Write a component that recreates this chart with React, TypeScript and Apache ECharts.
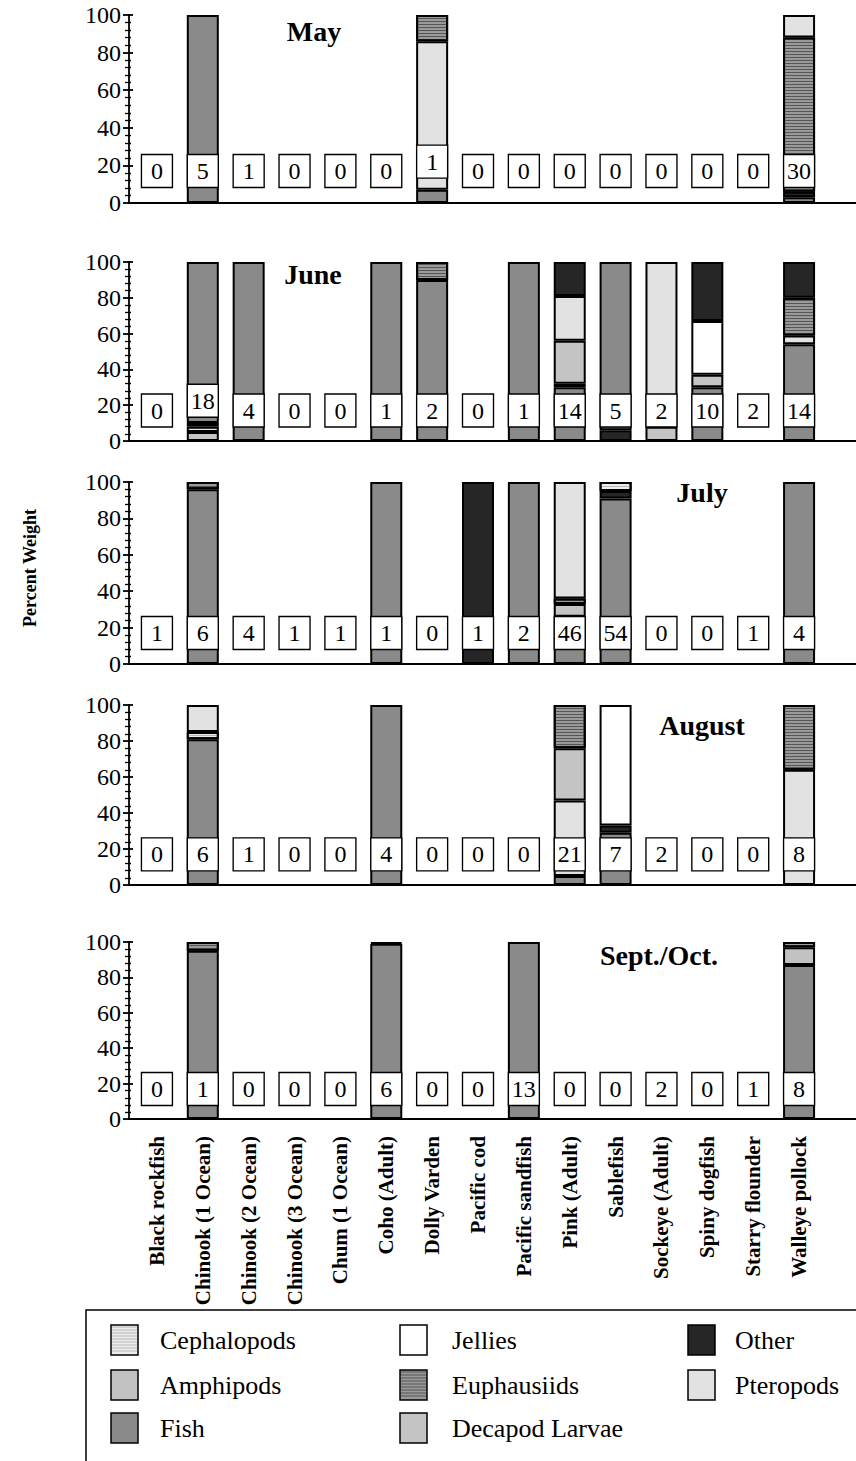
import { useEffect, useRef } from "react";
import * as echarts from "echarts";

// Predator species along the shared x axis
const SPECIES = [
  "Black rockfish",
  "Chinook (1 Ocean)",
  "Chinook (2 Ocean)",
  "Chinook (3 Ocean)",
  "Chum (1 Ocean)",
  "Coho (Adult)",
  "Dolly Varden",
  "Pacific cod",
  "Pacific sandfish",
  "Pink (Adult)",
  "Sablefish",
  "Sockeye (Adult)",
  "Spiny dogfish",
  "Starry flounder",
  "Walleye pollock",
];

const MONTHS = ["May", "June", "July", "August", "Sept./Oct."];

// Prey groups, in legend order (column by column)
const PREY = [
  "Cephalopods",
  "Amphipods",
  "Fish",
  "Jellies",
  "Euphausiids",
  "Decapod Larvae",
  "Other",
  "Pteropods",
];

const PERCENT_MIN = 0;
const PERCENT_MAX = 100;
const PERCENT_STEP = 20;

// Number of stomachs examined per species
const MAY_N = [0, 5, 1, 0, 0, 0, 1, 0, 0, 0, 0, 0, 0, 0, 30];
const JUNE_N = [0, 18, 4, 0, 0, 1, 2, 0, 1, 14, 5, 2, 10, 2, 14];
const JULY_N = [1, 6, 4, 1, 1, 1, 0, 1, 2, 46, 54, 0, 0, 1, 4];
const AUG_N = [0, 6, 1, 0, 0, 4, 0, 0, 0, 21, 7, 2, 0, 0, 8];
const SEPT_N = [0, 1, 0, 0, 0, 6, 0, 0, 13, 0, 0, 2, 0, 1, 8];

// Diet composition (percent weight), segments listed from the bottom of each bar up
type Segment = [string, number];

const MAY_DIET: Segment[][] = [
  [],
  [["Fish", 100]],
  [],
  [],
  [],
  [],
  [["Fish", 7], ["Pteropods", 79], ["Euphausiids", 14]],
  [],
  [],
  [],
  [],
  [],
  [],
  [],
  [["Fish", 3], ["Other", 3], ["Euphausiids", 82], ["Pteropods", 12]],
];

const JUNE_DIET: Segment[][] = [
  [],
  [["Decapod Larvae", 5], ["Pteropods", 3], ["Jellies", 2], ["Fish", 90]],
  [["Fish", 100]],
  [],
  [],
  [["Fish", 100]],
  [["Fish", 90], ["Euphausiids", 10]],
  [],
  [["Fish", 100]],
  [["Fish", 30], ["Other", 2], ["Decapod Larvae", 24], ["Pteropods", 25], ["Other", 19]],
  [["Other", 6], ["Fish", 94]],
  [["Decapod Larvae", 8], ["Pteropods", 92]],
  [["Fish", 30], ["Decapod Larvae", 7], ["Jellies", 30], ["Other", 33]],
  [],
  [["Fish", 54], ["Pteropods", 5], ["Euphausiids", 21], ["Other", 20]],
];

const JULY_DIET: Segment[][] = [
  [],
  [["Fish", 96], ["Euphausiids", 4]],
  [],
  [],
  [],
  [["Fish", 100]],
  [],
  [["Other", 100]],
  [["Fish", 100]],
  [["Fish", 26], ["Decapod Larvae", 7], ["Euphausiids", 3], ["Pteropods", 64]],
  [["Fish", 91], ["Other", 4], ["Cephalopods", 5]],
  [],
  [],
  [],
  [["Fish", 100]],
];

const AUG_DIET: Segment[][] = [
  [],
  [["Fish", 81], ["Cephalopods", 4], ["Pteropods", 15]],
  [],
  [],
  [],
  [["Fish", 100]],
  [],
  [],
  [],
  [["Fish", 5], ["Pteropods", 42], ["Decapod Larvae", 29], ["Euphausiids", 24]],
  [["Fish", 29], ["Other", 4], ["Jellies", 67]],
  [],
  [],
  [],
  [["Pteropods", 64], ["Euphausiids", 36]],
];

const SEPT_DIET: Segment[][] = [
  [],
  [["Fish", 95], ["Euphausiids", 5]],
  [],
  [],
  [],
  [["Fish", 99], ["Euphausiids", 1]],
  [],
  [],
  [["Fish", 100]],
  [],
  [],
  [],
  [],
  [],
  [["Fish", 87], ["Amphipods", 10], ["Euphausiids", 3]],
];

const DIETS = [MAY_DIET, JUNE_DIET, JULY_DIET, AUG_DIET, SEPT_DIET];
const COUNTS = [MAY_N, JUNE_N, JULY_N, AUG_N, SEPT_N];

// ---- styling and layout ----
const SERIF = '"Liberation Serif", "Times New Roman", serif';

const PREY_FILL: Record<string, string> = {
  Cephalopods: "#ececec",
  Amphipods: "#c2c2c2",
  Fish: "#8a8a8a",
  Jellies: "#ffffff",
  Euphausiids: "#9a9a9a",
  "Decapod Larvae": "#c4c4c4",
  Other: "#262626",
  Pteropods: "#e2e2e2",
};

// horizontal hatching for the striped prey groups
const STRIPE_COLOR: Record<string, string> = {
  Euphausiids: "#555555",
  Cephalopods: "#b8b8b8",
};

function decalFor(prey: string) {
  const c = STRIPE_COLOR[prey];
  if (!c) return undefined;
  return {
    symbol: "rect",
    symbolSize: 1,
    color: c,
    dashArrayX: [1, 0],
    dashArrayY: [1, 2],
    rotation: 0,
  };
}

const PANEL_TOP = [15, 262, 482, 705, 942];
const PANEL_BASE = [203, 441, 664, 885, 1119];
const GRID_LEFT = 134;
const GRID_WIDTH = 688;
const AXIS_X = 129;

// count boxes sit at a common height, a couple are lifted above a low segment
const BOX_LEVEL = 17;
const LIFTED_BOX: Record<string, number>[] = [{ 6: 22 }, { 1: 22.5 }, {}, {}, {}];

const TITLE_POS: [number, number][] = [
  [314, 31],
  [313, 274],
  [702, 492],
  [702, 725],
  [659, 955],
];
const TITLE_SHADOW = [false, true, false, false, false];

const LEGEND_ICON_X = [111, 400, 688];
const LEGEND_TEXT_X = [160, 452, 735];
const LEGEND_ROW_Y = [1340, 1385, 1428];

function buildOption() {
  const grid: any[] = [];
  const xAxis: any[] = [];
  const yAxis: any[] = [];
  const series: any[] = [];
  const graphic: any[] = [];
  const last = MONTHS.length - 1;

  MONTHS.forEach((month, p) => {
    const top = PANEL_TOP[p];
    const base = PANEL_BASE[p];
    grid.push({ left: GRID_LEFT, width: GRID_WIDTH, top, height: base - top });

    xAxis.push({
      type: "category",
      gridIndex: p,
      data: SPECIES,
      axisLine: { show: false },
      axisTick: { show: false },
      axisLabel:
        p === last
          ? {
              show: true,
              interval: 0,
              rotate: 90,
              margin: 17,
              fontSize: 21,
              fontWeight: "bold",
              fontFamily: SERIF,
              color: "#000",
              textShadowColor: "rgba(0,0,0,0.4)",
              textShadowOffsetX: 1,
              textShadowOffsetY: 1,
              textShadowBlur: 0,
            }
          : { show: false },
    });

    // main percent axis with labels and outward ticks
    yAxis.push({
      type: "value",
      gridIndex: p,
      position: "left",
      min: PERCENT_MIN,
      max: PERCENT_MAX,
      interval: PERCENT_STEP,
      offset: GRID_LEFT - AXIS_X,
      axisLine: { show: true, lineStyle: { color: "#000", width: 1.8 } },
      axisTick: { show: true, length: 6, lineStyle: { color: "#000", width: 1.8 } },
      minorTick: { show: true, splitNumber: 5, length: 4, lineStyle: { color: "#000", width: 1.3 } },
      splitLine: { show: false },
      axisLabel: {
        show: true,
        margin: 8,
        fontSize: 24,
        fontFamily: SERIF,
        color: "#000",
      },
    });
    // inward half of the crossing ticks
    yAxis.push({
      type: "value",
      gridIndex: p,
      position: "left",
      min: PERCENT_MIN,
      max: PERCENT_MAX,
      interval: PERCENT_STEP,
      offset: GRID_LEFT - AXIS_X,
      axisLine: { show: false },
      axisTick: { show: true, inside: true, length: 4, lineStyle: { color: "#000", width: 1.8 } },
      minorTick: { show: true, splitNumber: 5, length: 2, lineStyle: { color: "#000", width: 1.3 } },
      splitLine: { show: false },
      axisLabel: { show: false },
    });

    const diet = DIETS[p];
    const layers = Math.max(...diet.map((d) => d.length));
    for (let k = 0; k < layers; k++) {
      series.push({
        type: "bar",
        name: `${month} layer ${k + 1}`,
        xAxisIndex: p,
        yAxisIndex: 2 * p,
        stack: `diet-${p}`,
        barWidth: 32,
        itemStyle: { borderColor: "#000", borderWidth: 2 },
        data: diet.map((segs) => {
          const s = segs[k];
          if (!s) return "-";
          const style: any = { color: PREY_FILL[s[0]] };
          const decal = decalFor(s[0]);
          if (decal) style.decal = decal;
          return { value: s[1], name: s[0], itemStyle: style };
        }),
        z: 2,
      });
    }

    const counts = COUNTS[p];
    const lifted = LIFTED_BOX[p];
    series.push({
      type: "scatter",
      name: `${month} n`,
      xAxisIndex: p,
      yAxisIndex: 2 * p,
      symbol: "rect",
      symbolSize: [31, 33],
      itemStyle: { color: "#fff", borderColor: "#000", borderWidth: 1.4, opacity: 1 },
      label: {
        show: true,
        position: "inside",
        formatter: (d: any) => String(counts[d.dataIndex]),
        fontSize: 24,
        fontFamily: SERIF,
        color: "#000",
      },
      data: SPECIES.map((s, i) => [s, lifted[i] ?? BOX_LEVEL]),
      z: 5,
    });

    // baseline running the full width of the page
    graphic.push({
      type: "line",
      shape: { x1: AXIS_X - 1, y1: base, x2: 856, y2: base },
      style: { stroke: "#000", lineWidth: 2 },
      z: 50,
    });

    const titleStyle: any = {
      text: month,
      font: `bold 28px ${SERIF}`,
      fill: "#000",
      textAlign: "center",
      textVerticalAlign: "middle",
    };
    if (TITLE_SHADOW[p]) {
      titleStyle.shadowColor = "rgba(0,0,0,0.5)";
      titleStyle.shadowOffsetX = 1.5;
      titleStyle.shadowOffsetY = 1.5;
    }
    graphic.push({
      type: "text",
      x: TITLE_POS[p][0],
      y: TITLE_POS[p][1],
      style: titleStyle,
      z: 50,
    });
  });

  // y axis title
  graphic.push({
    type: "text",
    x: 30,
    y: 568,
    rotation: Math.PI / 2,
    style: {
      text: "Percent Weight",
      font: `bold 18px ${SERIF}`,
      fill: "#000",
      textAlign: "center",
      textVerticalAlign: "middle",
      shadowColor: "rgba(0,0,0,0.4)",
      shadowOffsetX: 1,
      shadowOffsetY: 1,
    },
    z: 50,
  });

  // legend frame
  graphic.push({
    type: "polyline",
    shape: { points: [[86, 1461], [86, 1310], [856, 1310]] },
    style: { stroke: "#000", lineWidth: 1.5, fill: "none" },
    z: 50,
  });

  PREY.forEach((prey, i) => {
    const col = Math.floor(i / 3);
    const row = i % 3;
    const y = LEGEND_ROW_Y[row];
    const ix = LEGEND_ICON_X[col];
    graphic.push({
      type: "rect",
      shape: { x: ix, y: y - 15, width: 27, height: 30 },
      style: { fill: PREY_FILL[prey], stroke: "#000", lineWidth: 1.5 },
      z: 50,
    });
    const stripe = STRIPE_COLOR[prey];
    if (stripe) {
      for (let sy = y - 13; sy < y + 14; sy += 3) {
        graphic.push({
          type: "line",
          shape: { x1: ix + 1, y1: sy, x2: ix + 26, y2: sy },
          style: { stroke: stripe, lineWidth: 1 },
          z: 51,
        });
      }
    }
    graphic.push({
      type: "text",
      x: LEGEND_TEXT_X[col],
      y,
      style: {
        text: prey,
        font: `26px ${SERIF}`,
        fill: "#000",
        textAlign: "left",
        textVerticalAlign: "middle",
      },
      z: 50,
    });
  });

  return {
    animation: false,
    backgroundColor: "#fff",
    grid,
    xAxis,
    yAxis,
    series,
    graphic,
  };
}

export default function App() {
  const ref = useRef<HTMLDivElement>(null);

  useEffect(() => {
    if (!ref.current) return;
    const chart = echarts.init(ref.current, undefined, { renderer: "svg" });
    chart.setOption(buildOption() as any);
    return () => chart.dispose();
  }, []);

  return (
    <div
      ref={ref}
      style={{ position: "absolute", left: 0, top: 0, width: 856, height: 1461 }}
    />
  );
}
